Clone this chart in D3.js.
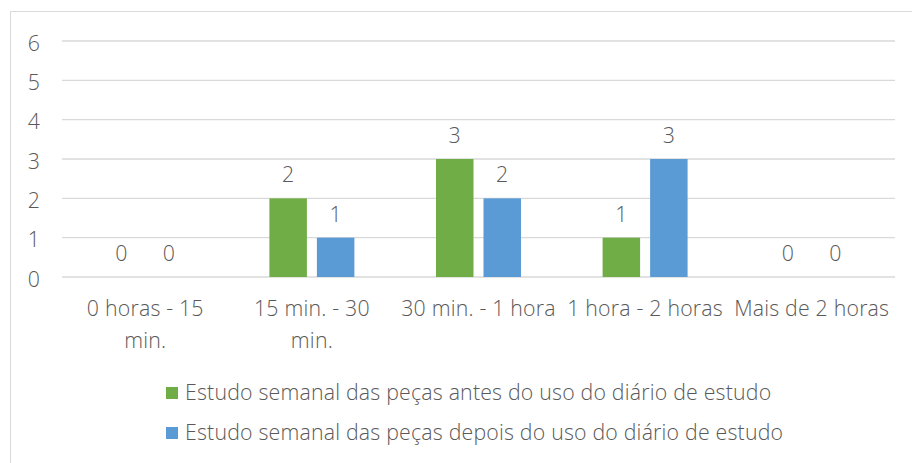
<!DOCTYPE html>
<html>
<head>
<meta charset="utf-8">
<script src="https://cdn.jsdelivr.net/npm/d3@7/dist/d3.min.js"></script>
<style>
  html, body { margin: 0; padding: 0; background: #fff; }
  svg text { font-family: "Open Sans", sans-serif; font-weight: 350; fill: #595959; letter-spacing: 0.2px; }
</style>
</head>
<body>
<svg id="chart" width="912" height="463"></svg>
<script>
const categories = ["0 horas - 15\nmin.", "15 min. - 30\nmin.", "30 min. - 1 hora", "1 hora - 2 horas", "Mais de 2 horas"];
const seriesNames = ["Estudo semanal das peças antes do uso do diário de estudo",
                     "Estudo semanal das peças depois do uso do diário de estudo"];
const antes  = [0, 2, 3, 1, 0];
const depois = [0, 1, 2, 3, 0];
const yTicks = [0, 1, 2, 3, 4, 5, 6];
const colors = ["#70AD47", "#5B9BD5"];

const svg = d3.select("#chart");
const fontSize = 21.3;
const plot = { left: 62, right: 895, top: 41, bottom: 277 };

// chart area border (top and left visible)
svg.append("path")
  .attr("d", "M10.5,463 L10.5,11.5 L912,11.5")
  .attr("fill", "none").attr("stroke", "#d9d9d9").attr("stroke-width", 1);

const y = d3.scaleLinear().domain([0, 6]).range([plot.bottom, plot.top]);
const x0 = d3.scaleBand().domain(categories).range([plot.left, plot.right]);
const groupW = 85;
const x1 = d3.scaleBand().domain([0, 1]).range([0, groupW]).paddingInner(0.2105);

// gridlines
svg.append("g").selectAll("line").data(yTicks).join("line")
  .attr("x1", plot.left).attr("x2", plot.right)
  .attr("y1", d => y(d)).attr("y2", d => y(d))
  .attr("stroke", "#d9d9d9").attr("stroke-width", 1.3);

// y tick labels
svg.append("g").selectAll("text").data(yTicks).join("text")
  .attr("x", 40).attr("y", d => y(d) + 1)
  .attr("text-anchor", "end").attr("dominant-baseline", "central")
  .attr("font-size", fontSize)
  .text(d => d);

const seriesData = [antes, depois];
const off = (x0.bandwidth() - groupW) / 2;

seriesData.forEach((vals, si) => {
  const g = svg.append("g");
  g.selectAll("rect").data(vals).join("rect")
    .attr("x", (d, i) => x0(categories[i]) + off + x1(si))
    .attr("width", x1.bandwidth())
    .attr("y", d => y(d))
    .attr("height", d => y(0) - y(d))
    .attr("fill", colors[si]);
  g.selectAll("text").data(vals).join("text")
    .attr("x", (d, i) => x0(categories[i]) + off + x1(si) + x1.bandwidth() / 2)
    .attr("y", d => y(d) - 16)
    .attr("text-anchor", "middle")
    .attr("font-size", fontSize)
    .text(d => d);
});

// x category labels
const xl = svg.append("g").selectAll("text").data(categories).join("text")
  .attr("x", d => x0(d) + x0.bandwidth() / 2)
  .attr("y", 316)
  .attr("text-anchor", "middle")
  .attr("font-size", fontSize);
xl.each(function(d) {
  const lines = d.split("\n");
  const t = d3.select(this);
  lines.forEach((ln, i) => {
    t.append("tspan").attr("x", x0(d) + x0.bandwidth() / 2)
      .attr("dy", i === 0 ? 0 : 32).text(ln);
  });
});

// legend
const legY = [400, 440];
const leg = svg.append("g").selectAll("g").data(seriesNames).join("g");
leg.append("rect")
  .attr("x", 166).attr("y", (d, i) => legY[i] - 13)
  .attr("width", 12).attr("height", 12)
  .attr("fill", (d, i) => colors[i]);
leg.append("text")
  .attr("x", 185).attr("y", (d, i) => legY[i])
  .attr("font-size", fontSize)
  .text(d => d);
</script>
</body>
</html>
